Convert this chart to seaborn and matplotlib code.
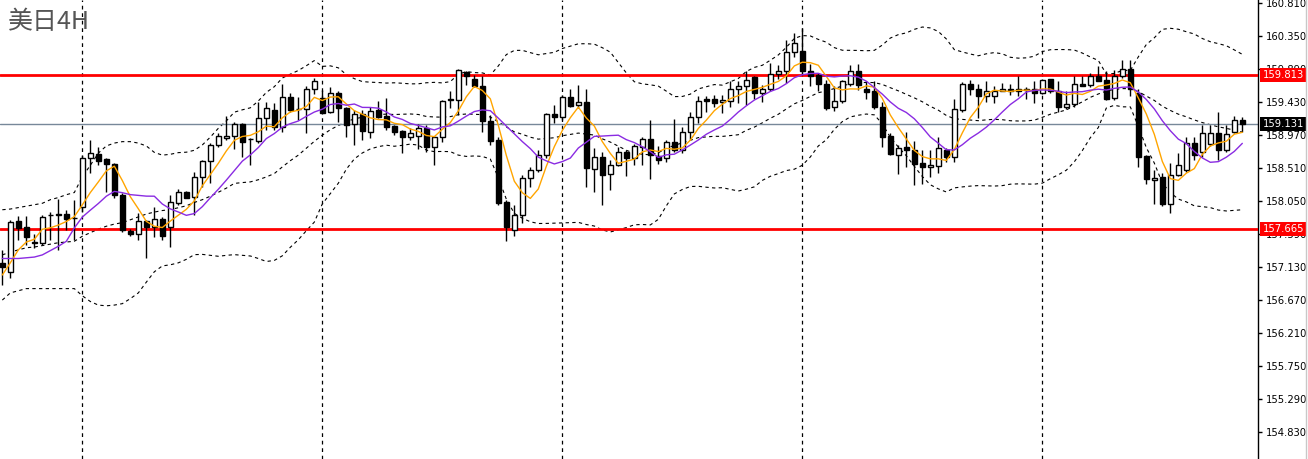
import numpy as np
import pandas as pd
import matplotlib
matplotlib.use("Agg")
import matplotlib.pyplot as plt
import matplotlib.transforms as mtransforms
import seaborn as sns

# USD/JPY 4H candles
opens = [157.19, 157.06, 157.77, 157.69, 157.48, 157.47, 157.85, 157.86, 157.87, 157.82,
         157.97, 158.65, 158.71, 158.64, 158.57, 158.14, 157.64, 157.59, 157.77, 157.69,
         157.80, 157.69, 158.03, 158.18, 158.11, 158.39, 158.61, 158.83, 158.93, 158.96,
         159.13, 158.92, 158.89, 159.21, 159.32, 159.09, 159.50, 159.34, 159.33, 159.61,
         159.49, 159.29, 159.56, 159.35, 159.12, 159.26, 159.01, 159.32, 159.24, 159.10,
         159.03, 158.94, 158.96, 159.07, 158.80, 158.94, 159.46, 159.46, 159.85, 159.76,
         159.66, 159.17, 158.90, 158.04, 157.65, 157.85, 158.37, 158.48, 158.69, 159.27,
         159.23, 159.50, 159.39, 159.43, 158.50, 158.67, 158.43, 158.56, 158.74, 158.65,
         158.81, 158.92, 158.68, 158.65, 158.87, 158.76, 159.01, 159.23, 159.47, 159.47,
         159.43, 159.45, 159.62, 159.65, 159.78, 159.56, 159.61, 159.82, 159.87, 160.13,
         160.14, 159.87, 159.81, 159.68, 159.36, 159.45, 159.68, 159.87, 159.61, 159.58,
         159.36, 158.96, 158.70, 158.80, 158.77, 158.58, 158.52, 158.54, 158.76, 158.66,
         159.32, 159.68, 159.62, 159.51, 159.52, 159.59, 159.62, 159.61, 159.61, 159.61,
         159.56, 159.75, 159.58, 159.37, 159.40, 159.68, 159.67, 159.80, 159.74, 159.49,
         159.79, 159.90, 159.56, 158.68, 158.34, 158.38, 158.01, 158.41, 158.49, 158.86,
         158.73, 158.85, 159.00, 158.76, 159.02, 159.18]
highs = [157.37, 157.79, 157.84, 157.84, 157.59, 157.86, 157.90, 158.08, 157.93, 158.07,
         158.69, 158.90, 158.81, 158.65, 158.58, 158.16, 157.66, 157.89, 157.79, 157.97,
         157.83, 158.13, 158.22, 158.19, 158.45, 158.62, 158.86, 159.00, 159.24, 159.16,
         159.14, 158.93, 159.44, 159.44, 159.42, 159.69, 159.56, 159.50, 159.65, 159.77,
         159.60, 159.64, 159.59, 159.37, 159.32, 159.32, 159.37, 159.45, 159.49, 159.11,
         159.04, 159.07, 159.13, 159.11, 158.96, 159.46, 159.59, 159.90, 159.86, 159.81,
         159.79, 159.25, 158.94, 158.07, 158.00, 158.41, 158.53, 158.76, 159.28, 159.39,
         159.53, 159.61, 159.67, 159.61, 158.79, 158.74, 158.62, 158.81, 158.76, 158.85,
         158.95, 159.18, 158.82, 158.90, 159.19, 159.08, 159.30, 159.51, 159.52, 159.53,
         159.53, 159.73, 159.72, 159.86, 159.79, 159.67, 159.98, 159.95, 160.30, 160.40,
         160.46, 159.97, 159.84, 159.74, 159.65, 159.74, 159.95, 159.96, 159.72, 159.72,
         159.44, 159.00, 158.83, 159.01, 158.89, 158.76, 158.76, 158.94, 158.79, 159.47,
         159.71, 159.74, 159.69, 159.72, 159.65, 159.70, 159.69, 159.80, 159.64, 159.72,
         159.76, 159.76, 159.72, 159.58, 159.80, 159.80, 159.84, 159.94, 159.86, 159.88,
         160.02, 160.02, 159.61, 158.69, 158.49, 158.44, 158.58, 158.72, 158.95, 158.94,
         159.11, 159.11, 159.30, 159.11, 159.24, 159.23]
lows = [156.88, 156.98, 157.51, 157.44, 157.40, 157.44, 157.51, 157.37, 157.65, 157.51,
        157.90, 158.44, 158.55, 158.18, 158.09, 157.62, 157.56, 157.51, 157.26, 157.55,
        157.51, 157.41, 158.00, 158.09, 157.86, 158.25, 158.30, 158.81, 158.90, 158.78,
        158.66, 158.55, 158.86, 159.04, 159.04, 159.02, 159.30, 159.18, 159.00, 159.54,
        159.28, 159.28, 159.16, 158.95, 158.84, 158.90, 158.93, 159.21, 159.04, 158.97,
        158.72, 158.90, 158.78, 158.74, 158.55, 158.88, 159.35, 159.25, 159.67, 159.64,
        159.02, 158.83, 158.00, 157.50, 157.56, 157.74, 158.25, 158.46, 158.65, 159.14,
        159.18, 159.37, 159.35, 158.25, 158.18, 158.00, 158.21, 158.54, 158.40, 158.55,
        158.55, 158.36, 158.57, 158.60, 158.73, 158.72, 158.92, 159.14, 159.30, 159.36,
        159.28, 159.36, 159.42, 159.39, 159.48, 159.44, 159.58, 159.76, 159.70, 160.06,
        159.81, 159.65, 159.58, 159.32, 159.31, 159.42, 159.65, 159.60, 159.48, 159.33,
        158.81, 158.69, 158.43, 158.53, 158.27, 158.29, 158.39, 158.44, 158.59, 158.60,
        159.30, 159.53, 159.21, 159.44, 159.42, 159.58, 159.53, 159.51, 159.47, 159.42,
        159.54, 159.56, 159.30, 159.33, 159.37, 159.65, 159.64, 159.72, 159.46, 159.46,
        159.77, 159.52, 158.53, 158.29, 158.01, 157.98, 157.88, 158.40, 158.46, 158.62,
        158.67, 158.82, 158.62, 158.74, 159.00, 159.01]
closes = [157.13, 157.76, 157.68, 157.55, 157.47, 157.83, 157.86, 157.87, 157.80, 157.81,
          158.65, 158.72, 158.61, 158.57, 158.14, 157.65, 157.59, 157.77, 157.69, 157.80,
          157.56, 158.04, 158.18, 158.10, 158.39, 158.61, 158.83, 158.96, 158.96, 159.13,
          158.88, 158.91, 159.21, 159.35, 159.09, 159.50, 159.32, 159.33, 159.61, 159.73,
          159.28, 159.56, 159.35, 159.11, 159.26, 159.03, 159.31, 159.23, 159.09, 159.02,
          158.94, 159.00, 159.07, 158.80, 158.94, 159.45, 159.47, 159.88, 159.79, 159.66,
          159.17, 158.89, 158.03, 157.69, 157.86, 158.37, 158.49, 158.69, 159.27, 159.23,
          159.50, 159.38, 159.43, 158.51, 158.67, 158.41, 158.56, 158.74, 158.65, 158.82,
          158.92, 158.69, 158.63, 158.87, 158.76, 159.01, 159.23, 159.45, 159.45, 159.42,
          159.46, 159.62, 159.66, 159.74, 159.56, 159.61, 159.83, 159.86, 160.13, 160.25,
          159.87, 159.80, 159.68, 159.35, 159.45, 159.73, 159.87, 159.67, 159.57, 159.36,
          158.95, 158.71, 158.79, 158.77, 158.57, 158.52, 158.55, 158.79, 158.66, 159.33,
          159.68, 159.62, 159.51, 159.59, 159.59, 159.62, 159.59, 159.59, 159.60, 159.56,
          159.74, 159.58, 159.37, 159.40, 159.68, 159.66, 159.80, 159.73, 159.48, 159.79,
          159.90, 159.61, 158.67, 158.36, 158.37, 158.01, 158.41, 158.55, 158.86, 158.69,
          159.00, 159.00, 158.76, 158.98, 159.18, 159.131]

# indicator values at the left edge (history before the first visible candle)
ma5_start = [157.02, 157.19, 157.37, 157.48]
ma10_start = [157.25, 157.25, 157.25, 157.26, 157.27, 157.30, 157.36, 157.42, 157.49]
bb_upper_start = [157.93, 157.94, 157.96, 157.98, 158.00, 158.02, 158.07, 158.10, 158.14, 158.17,
                  158.39, 158.55, 158.72, 158.82, 158.86, 158.88, 158.88, 158.86, 158.82]
bb_mid_start = [157.30, 157.34, 157.37, 157.40, 157.41, 157.43, 157.45, 157.47, 157.48, 157.49,
                157.56, 157.61, 157.66, 157.70, 157.73, 157.75, 157.79, 157.83, 157.87]
bb_lower_start = [156.67, 156.77, 156.80, 156.83, 156.83, 156.83, 156.83, 156.83, 156.83, 156.83,
                  156.73, 156.65, 156.60, 156.59, 156.60, 156.62, 156.69, 156.77, 156.92]

resistance = 159.813
support = 157.665
last_price = 159.131
week_starts = [10, 40, 70, 100, 130]
y_ticks = [160.810, 160.350, 159.890, 159.430, 158.970, 158.510, 158.050,
           157.590, 157.130, 156.670, 156.210, 155.750, 155.290, 154.830]

df = pd.DataFrame({"open": opens, "high": highs, "low": lows, "close": closes})
df["idx"] = np.arange(len(df))

# moving averages and bollinger bands (20, 2)
ma5 = df["close"].rolling(5).mean().to_numpy()
ma5[:len(ma5_start)] = ma5_start
ma10 = df["close"].rolling(10).mean().to_numpy()
ma10[:len(ma10_start)] = ma10_start
mid = df["close"].rolling(20).mean()
sd = df["close"].rolling(20).std(ddof=0)
upper = (mid + 2 * sd).to_numpy()
lower = (mid - 2 * sd).to_numpy()
mid = mid.to_numpy()
upper[:19] = bb_upper_start
mid[:19] = bb_mid_start
lower[:19] = bb_lower_start

sns.set_style("white")
plt.rcParams["font.family"] = ["DejaVu Sans"]

W, H = 1308, 459
fig = plt.figure(figsize=(W / 100, H / 100), dpi=100)
ax = fig.add_axes([0, 0, 1258 / W, 1])

ax.set_xlim(-0.29, 156.96)
ax.set_ylim(154.453, 160.856)

for w in week_starts:
    ax.axvline(w, color="black", lw=0.9, ls=(0, (3, 3)), zorder=1)

band_style = dict(color="black", lw=0.8, linestyle=(0, (3, 3)))
for band in (upper, mid, lower):
    sns.lineplot(x=df["idx"], y=band, ax=ax, zorder=2, **band_style)

ax.axhline(last_price, color="#778899", lw=1, zorder=2)
ax.axhline(resistance, color="red", lw=2, zorder=3)
ax.axhline(support, color="red", lw=2, zorder=3)

# candles
up = df["close"] >= df["open"]
ax.vlines(df["idx"], df["low"], df["high"], color="black", lw=1, zorder=4)
body_lo = np.minimum(df["open"], df["close"])
body_h = np.maximum((df["close"] - df["open"]).abs(), 0.004)
ax.bar(df["idx"][up], body_h[up], bottom=body_lo[up], width=0.62,
       color="white", edgecolor="black", lw=1, zorder=5)
ax.bar(df["idx"][~up], body_h[~up], bottom=body_lo[~up], width=0.62,
       color="black", edgecolor="black", lw=1, zorder=5)

sns.lineplot(x=df["idx"], y=ma5, ax=ax, color="#FFA500", lw=1, zorder=6)
sns.lineplot(x=df["idx"], y=ma10, ax=ax, color="#8A2BE2", lw=1, zorder=6)

# right price axis
for s in ("top", "left", "bottom"):
    ax.spines[s].set_visible(False)
ax.spines["right"].set_color("black")
ax.spines["right"].set_linewidth(1)
ax.set_xticks([])
ax.yaxis.tick_right()
ax.set_yticks(y_ticks)
ax.set_yticklabels([f"{t:.3f}" for t in y_ticks])
ax.tick_params(axis="y", direction="out", length=3, width=1, pad=3,
               labelsize=7.2, colors="black")
ax.set_xlabel("")
ax.set_ylabel("")

trans = mtransforms.blended_transform_factory(ax.transAxes, ax.transData)
for price, bg in ((resistance, "red"), (support, "red"), (last_price, "black")):
    ax.text(1.0035, price, f"{price:.3f}", transform=trans, ha="left", va="center",
            fontsize=7.2, color="white", zorder=10, clip_on=False,
            bbox=dict(boxstyle="square,pad=0.2", fc=bg, ec="none"))

fig.text(8 / W, 1 - 9 / H, "美日4H", ha="left", va="top", fontsize=18,
         color="#555555", family=["Noto Sans CJK SC", "DejaVu Sans"])

fig.add_artist(plt.Line2D([1306 / W, 1306 / W], [0, 1], color="#c8c8c8", lw=1))

fig.savefig("out.png", dpi=100, facecolor="white")
